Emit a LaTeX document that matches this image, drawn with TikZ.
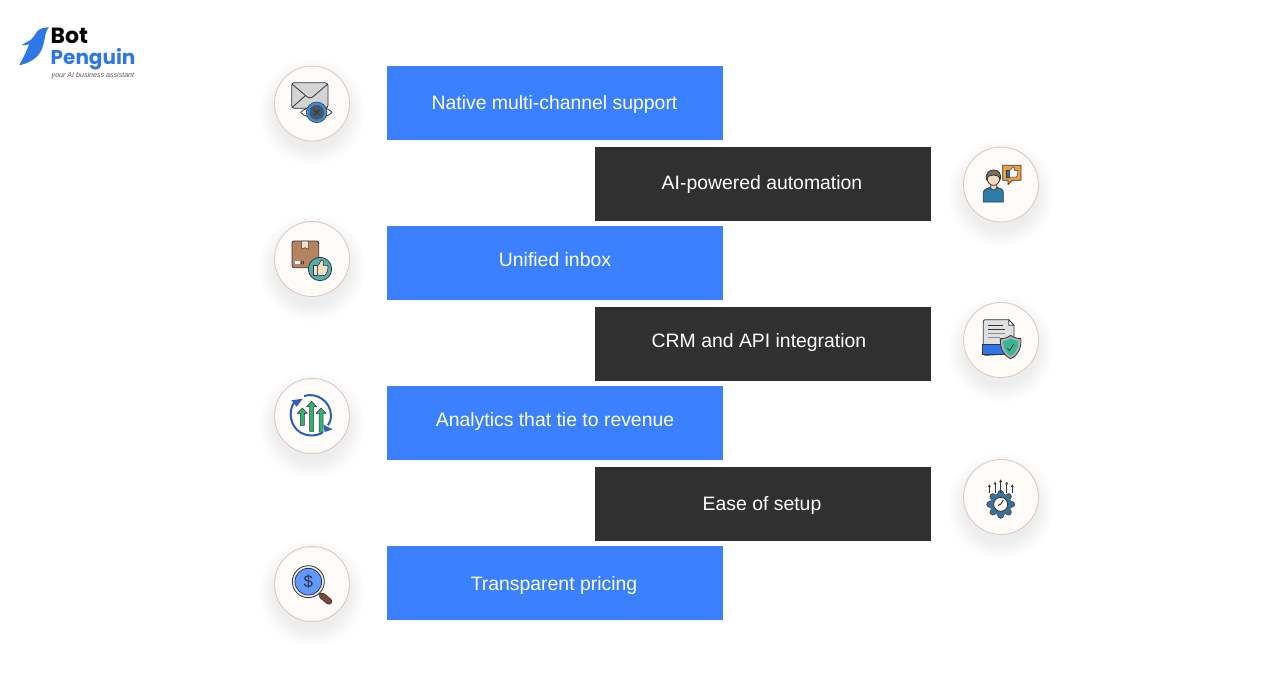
\documentclass[tikz,border=0pt]{standalone}
\usepackage{fontspec}
\setmainfont{Liberation Sans}
\newfontfamily\logofont{Poppins}
\usetikzlibrary{calc}
\definecolor{bpblue}{HTML}{3A80FF}
\definecolor{bpdark}{HTML}{303030}
\definecolor{logoblue}{HTML}{2F76E6}
\definecolor{ink}{HTML}{33363D}
\definecolor{rimc}{HTML}{D9CBC7}
\definecolor{discc}{HTML}{FFFBF9}
\tikzset{
  bluebox/.style={fill=bpblue,minimum width=336pt,minimum height=74pt,inner sep=0pt},
  darkbox/.style={fill=bpdark,minimum width=336pt,minimum height=74pt,inner sep=0pt},
  lbl/.style={text=white,font=\fontsize{19.4pt}{22pt}\selectfont,inner sep=0pt,anchor=center},
  disc/.style={circle,draw=rimc,line width=0.9pt,fill=discc,minimum size=75pt,inner sep=0pt},
  icon/.style={draw=ink,line width=0.8pt,line join=round,line cap=round},
}
\newcommand{\shadowdisc}[2]{%
  \foreach \rr in {37,39,...,53}{\fill[black!70!blue,opacity=0.009] (#1,#2+9) circle (\rr pt);}%
}
\begin{document}
\begin{tikzpicture}[x=1pt,y=-1pt]
\useasboundingbox (0,0) rectangle (1288,686);
\fill[white] (0,0) rectangle (1288,686);

% logo
\begin{scope}[shift={(0,10)},scale=1/3]
\fill[logoblue] (147,52) .. controls (132,53) and (120,54) .. (112,64)
  .. controls (104,74) and (100,84) .. (92,90)
  .. controls (84,96) and (74,98) .. (65,105)
  .. controls (72,107) and (80,106) .. (87,102)
  .. controls (82,122) and (68,145) .. (58,166)
  .. controls (82,160) and (106,150) .. (120,128)
  .. controls (132,108) and (134,85) .. (137,71)
  .. controls (139,63) and (142,57) .. (147,52) -- cycle;
\end{scope}
\node[anchor=west,inner sep=0pt,font=\logofont\bfseries\fontsize{22pt}{22pt}\selectfont,text=black] (logobot) at (50.5,36) {Bot};
\node[anchor=west,inner sep=0pt,font=\logofont\bfseries\fontsize{20pt}{20pt}\selectfont,text=logoblue] (logopen) at (50.5,59) {Penguin};
\node[anchor=west,inner sep=0pt,font=\itshape\fontsize{7.1pt}{8pt}\selectfont,text=black!65] (logotag) at (51.5,76) {your AI business assistant};

% boxes
\node[bluebox] (b1) at (555,103) {};
\node[darkbox] (d1) at (763,184) {};
\node[bluebox] (b2) at (555,263) {};
\node[darkbox] (d2) at (763,344) {};
\node[bluebox] (b3) at (555,423) {};
\node[darkbox] (d3) at (763,504) {};
\node[bluebox] (b4) at (555,583) {};

% labels
\node[lbl] (t1) at ($(b1)+(-0.5,1)$) {Native multi-channel support};
\node[lbl] (t2) at ($(d1)+(-1,0)$) {AI-powered automation};
\node[lbl] (t3) at ($(b2)+(0,-3)$) {Unified inbox};
\node[lbl] (t4) at ($(d2)+(-4,-2)$) {CRM and API integration};
\node[lbl] (t5) at ($(b3)+(0,-2)$) {Analytics that tie to revenue};
\node[lbl] (t6) at ($(d3)+(-1,1)$) {Ease of setup};
\node[lbl] (t7) at ($(b4)+(-1,2)$) {Transparent pricing};

% discs
\shadowdisc{312}{103.5}\node[disc] (c1) at (312,103.5) {};
\shadowdisc{312}{259}\node[disc] (c2) at (312,259) {};
\shadowdisc{312}{416}\node[disc] (c3) at (312,416) {};
\shadowdisc{312}{584}\node[disc] (c4) at (312,584) {};
\shadowdisc{1001}{184.5}\node[disc] (c5) at (1001,184.5) {};
\shadowdisc{1001}{340}\node[disc] (c6) at (1001,340) {};
\shadowdisc{1001}{497}\node[disc] (c7) at (1001,497) {};

% icon 1: envelope and eye
\begin{scope}[shift={(260,55)},scale=1/3]
\definecolor{irisc}{HTML}{3B8FD8}
\definecolor{pupil}{HTML}{4A5568}
\draw[icon,fill=black!17] (103,83) -- (195,83) .. controls (200,83) and (204,87) .. (204,92) -- (204,151) .. controls (204,156) and (200,160) .. (195,160) -- (103,160) .. controls (98,160) and (95,156) .. (95,151) -- (95,92) .. controls (95,87) and (98,83) .. (103,83) -- cycle;
\draw[icon] (97,88) -- (142,126) .. controls (148,130) and (152,130) .. (158,126) -- (202,88);
\draw[icon] (97,157) -- (136,122);
\draw[icon,fill=white] (122,172) .. controls (140,150) and (198,150) .. (216,172) .. controls (198,194) and (140,194) .. (122,172) -- cycle;
\fill[draw=ink,line width=0.5pt,fill=irisc] (170,172) circle (31);
\fill[pupil] (170,172) circle (22);
\draw[icon,line width=0.9pt] (162,164) -- (178,180) (178,164) -- (162,180);
\end{scope}

% icon 2: parcel and thumb
\begin{scope}[shift={(260,210)},scale=1/3]
\definecolor{parcel}{HTML}{B5835F}
\definecolor{skin}{HTML}{F3DFC6}
\definecolor{tealc}{HTML}{52AFAB}
\draw[icon,fill=parcel] (102,93) -- (170,93) .. controls (174,93) and (176,96) .. (176,100) -- (176,166) .. controls (176,170) and (174,173) .. (170,173) -- (102,173) .. controls (98,173) and (96,170) .. (96,166) -- (96,100) .. controls (96,96) and (98,93) .. (102,93) -- cycle;
\draw[icon,line width=0.5pt,fill=skin] (124,93) -- (146,93) -- (146,118) -- (135,113) -- (124,118) -- cycle;
\fill[white] (104,152) rectangle (120,163);
\draw[icon,line width=0.5pt] (124,153) -- (124,162) (130,153) -- (130,162);
\draw[icon,fill=tealc] (180,177) circle (35);
\draw[icon,line width=0.6pt,fill=skin] (160,165) -- (172,165) -- (172,197) -- (160,197) -- cycle;
\draw[icon,line width=0.6pt,fill=skin] (172,168) .. controls (178,160) and (182,158) .. (183,150) .. controls (190,148) and (193,156) .. (190,166) -- (201,166) .. controls (206,168) and (206,174) .. (203,176) .. controls (205,182) and (202,188) .. (199,189) .. controls (198,195) and (195,197) .. (190,197) -- (172,195) -- cycle;
\end{scope}

% icon 3: growth arrows
\begin{scope}[shift={(260,368)},scale=1/3]
\definecolor{arrowblue}{HTML}{2A5FB8}
\definecolor{arrowgreen}{HTML}{2FB374}
\draw[arrowblue,line width=2pt] (132,84) .. controls (170,72) and (212,100) .. (213,142) .. controls (213,155) and (209,165) .. (204,172);
\draw[arrowblue,line width=2pt] (102,104) .. controls (84,130) and (90,175) .. (122,194) .. controls (140,204) and (165,206) .. (188,194);
\fill[arrowblue] (94,97) -- (128,92) -- (110,116) -- cycle;
\fill[arrowblue] (190,170) -- (218,184) -- (194,192) -- cycle;
\foreach \ax/\ay/\bb in {127/120/172,155/100/190,183/120/192}{
  \draw[icon,line width=0.5pt,fill=arrowgreen] (\ax-6,\bb) -- (\ax-6,\ay+16) -- (\ax-15,\ay+16) -- (\ax,\ay) -- (\ax+15,\ay+16) -- (\ax+6,\ay+16) -- (\ax+6,\bb) -- cycle;
}
\end{scope}

% icon 4: magnifier
\begin{scope}[shift={(260,535)},scale=1/3]
\definecolor{handle}{HTML}{7A4A35}
\draw[ink,line width=1.8pt] (176,174) -- (186,182);
\draw[line cap=round,draw=ink,line width=6.5pt] (187,183) -- (207,199);
\draw[line cap=round,draw=handle,line width=5pt] (187,183) -- (207,199);
\draw[icon,fill=black!8] (145,140) circle (48);
\draw[icon,fill=bpblue!80!white] (145,140) circle (40);
\node[text=ink,inner sep=0pt,font=\fontsize{17pt}{18pt}\selectfont] (dollar) at (145,140) {\$};
\end{scope}

% icon 5: person and bubble
\begin{scope}[shift={(950,138)},scale=1/3]
\definecolor{shirt}{HTML}{2A7EA8}
\definecolor{skin}{HTML}{F3D9C0}
\definecolor{bubble}{HTML}{F0A040}
\definecolor{hair}{HTML}{7D6A58}
\draw[icon,fill=shirt] (100,192) -- (100,163) .. controls (101,155) and (112,150) .. (120,148) -- (142,148) .. controls (150,150) and (160,155) .. (160,163) -- (160,192) -- cycle;
\draw[icon,fill=skin] (122,140) -- (122,150) .. controls (126,158) and (136,158) .. (140,150) -- (140,140) -- cycle;
\draw[icon,fill=skin] (111,118) .. controls (111,150) and (150,150) .. (150,118) .. controls (150,96) and (111,96) .. (111,118) -- cycle;
\draw[icon,fill=hair] (110,126) .. controls (104,104) and (120,95) .. (131,96) .. controls (145,95) and (156,106) .. (150,126) .. controls (148,114) and (140,110) .. (131,111) .. controls (122,110) and (112,114) .. (110,126) -- cycle;
\draw[icon,fill=bubble] (158,82) -- (213,82) -- (213,127) -- (187,127) -- (174,140) -- (174,127) -- (158,127) -- cycle;
\draw[icon,line width=0.5pt,fill=shirt] (168,97) rectangle (179,117);
\draw[icon,line width=0.5pt,fill=white] (179,98) .. controls (184,94) and (186,90) .. (188,86) .. controls (194,86) and (195,92) .. (193,97) -- (203,97) .. controls (205,102) and (204,112) .. (199,117) -- (179,117) -- cycle;
\end{scope}

% icon 6: document and shield
\begin{scope}[shift={(950,292)},scale=1/3]
\definecolor{shieldc}{HTML}{35B795}
\draw[icon,fill=black!12] (106,83) -- (176,83) -- (192,100) -- (192,185) -- (106,190) .. controls (102,190) and (100,186) .. (100,182) -- (100,90) .. controls (100,86) and (102,83) .. (106,83) -- cycle;
\draw[icon,fill=white] (176,83) -- (176,100) -- (192,100) -- cycle;
\draw[ink,line width=0.7pt] (114,100) -- (160,100) (114,112) -- (166,112);
\draw[black!45,line width=0.7pt] (114,124) -- (166,124) (114,136) -- (150,136);
\draw[icon,fill=logoblue] (96,156) rectangle (165,186);
\draw[icon,fill=black!30] (182,130) .. controls (192,138) and (204,140) .. (213,140) .. controls (214,170) and (204,190) .. (182,200) .. controls (160,190) and (150,170) .. (151,140) .. controls (160,140) and (172,138) .. (182,130) -- cycle;
\fill[shieldc] (182,139) .. controls (190,145) and (198,147) .. (205,147) .. controls (205,168) and (198,183) .. (182,192) .. controls (166,183) and (159,168) .. (159,147) .. controls (166,147) and (174,145) .. (182,139) -- cycle;
\draw[ink,line width=0.7pt] (172,168) -- (178,176) -- (192,156);
\end{scope}

% icon 7: gear and arrows
\begin{scope}[shift={(950,450)},scale=1/3]
\definecolor{gearc}{HTML}{3F6F95}
\foreach \a in {0,45,...,315}{\fill[gearc,draw=ink,line width=0.5pt] ($(152,163)+(\a:33)$) circle (9);}
\fill[gearc] (152,163) circle (33);
\draw[icon,fill=white] (152,163) circle (21);
\draw[ink,line width=1pt] (152,163) -- (160,150) (152,163) -- (144,166);
\foreach \ax/\ay in {118/103,135/95,152/88,170/95,187/103}{
  \draw[ink,line width=0.8pt] (\ax,\ay+5) -- (\ax,128);
  \fill[ink] (\ax,\ay) -- (\ax+4.5,\ay+8) -- (\ax-4.5,\ay+8) -- cycle;
}
\end{scope}
\end{tikzpicture}
\end{document}
